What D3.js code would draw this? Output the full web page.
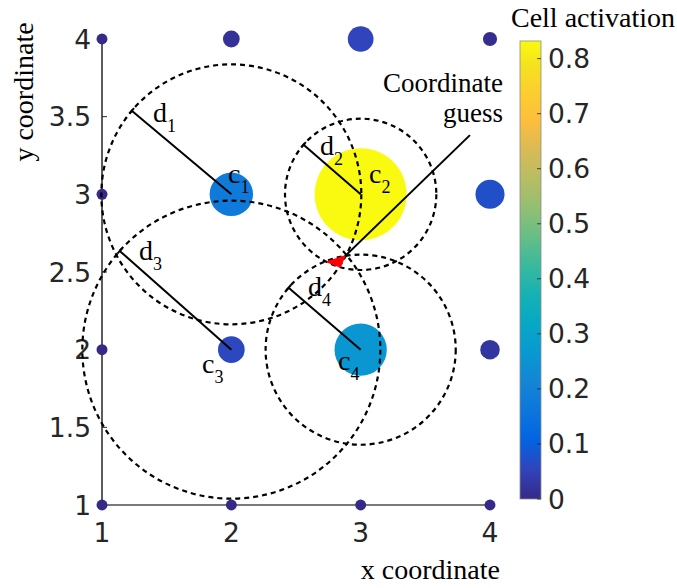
<!DOCTYPE html>
<html><head><meta charset="utf-8">
<script src="https://cdn.jsdelivr.net/npm/d3@7"></script>
<style>body{margin:0;background:#fff}</style>
</head><body><svg id="c" width="677" height="588"></svg>
<script>
// ---- data ----
const xCells = [1, 2, 3, 4];
const yCells = [4, 3, 2, 1];
const activation = [            // rows follow yCells, columns follow xCells
  [0.000, 0.016, 0.054, 0.008],
  [0.000, 0.176, 0.830, 0.072],
  [0.000, 0.059, 0.260, 0.026],
  [0.000, 0.000, 0.000, 0.000]
];
const circleNames = ["1", "2", "3", "4"];
const circleCX = [2, 3, 2, 3];
const circleCY = [3, 3, 2, 2];
const circleR = [1.005, 0.585, 1.152, 0.735];      // in x units
const radiusAngle = [40, 41, 41.5, 40.7];          // degrees, up-left
const dLabelX = [1.394, 2.686, 1.286, 2.593];
const dLabelY = [3.466, 3.253, 2.578, 2.346];
const cLabelX = [1.974, 3.064, 1.773, 2.825];
const cLabelY = [3.073, 3.073, 1.850, 1.869];
const guessX = [2.740, 2.879, 2.840];
const guessY = [2.565, 2.603, 2.533];
const pointerX = [2.879, 3.845];
const pointerY = [2.602, 3.381];
const xTicks = [1, 2, 3, 4];
const yTicks = [1, 1.5, 2, 2.5, 3, 3.5, 4];
const cbTicks = [0, 0.1, 0.2, 0.3, 0.4, 0.5, 0.6, 0.7, 0.8];
const cbMax = 0.832;
const parula = ["#352a87","#3243ba","#0363e1","#0d75dc","#1485d4","#0998d1","#06a7c6","#15b1b4",
  "#38b99e","#65be86","#92bf73","#b7bd64","#d9ba56","#fdbe3d","#fcce2e","#f5e41d","#f9fb0e"];
const parulaPos = [0,4,8,12,16,20,24,28,32,36,40,44,48,52,56,60,63].map(i => i / 63);

// ---- scales ----
const svg = d3.select("#c");
const x = d3.scaleLinear().domain([1, 4]).range([102, 490]);
const y = d3.scaleLinear().domain([1, 4]).range([505, 39]);
const cmapT = d3.scaleLinear().domain(parulaPos).range(parula).interpolate(d3.interpolateRgb);
const color = v => cmapT(Math.min(1, v / cbMax));
const area = d3.scaleLinear().domain([0, 0.83]).range([30, 2116]);
const serif = "'Liberation Serif','Times New Roman',serif";
const sans = "'DejaVu Sans',sans-serif";
const ink = "#262626";
const SANS = 26.5, SERIF = 28, SUB = 18;

// ---- axes ----
const g = svg.append("g");
g.append("line").attr("x1", x(1)).attr("x2", x(4)).attr("y1", y(1)).attr("y2", y(1))
  .attr("stroke", "#4d4d4d").attr("stroke-width", 1.5);
g.append("line").attr("x1", x(1)).attr("x2", x(1)).attr("y1", y(1)).attr("y2", y(4))
  .attr("stroke", ink).attr("stroke-width", 1.5);
g.selectAll(".yt").data(yTicks).join("line").attr("x1", x(1)).attr("x2", x(1) + 5)
  .attr("y1", d => y(d)).attr("y2", d => y(d)).attr("stroke", ink).attr("stroke-width", 1);
g.selectAll(".xt").data(xTicks).join("line").attr("y1", y(1)).attr("y2", y(1) - 5)
  .attr("x1", d => x(d)).attr("x2", d => x(d)).attr("stroke", ink).attr("stroke-width", 1);
g.selectAll(".ytl").data(yTicks).join("text").attr("x", x(1) - 11).attr("y", d => y(d))
  .attr("dy", "0.36em").attr("text-anchor", "end").attr("font-family", sans)
  .attr("font-size", SANS).attr("fill", ink).text(d => d);
g.selectAll(".xtl").data(xTicks).join("text").attr("x", d => x(d)).attr("y", y(1) + 37)
  .attr("text-anchor", "middle").attr("font-family", sans)
  .attr("font-size", SANS).attr("fill", ink).text(d => d);
svg.append("text").attr("x", x(4) + 10).attr("y", 579).attr("text-anchor", "end")
  .attr("font-family", serif).attr("font-size", SERIF).attr("fill", "#000").text("x coordinate");
svg.append("text").attr("transform", "translate(33,92) rotate(-90)").attr("text-anchor", "middle")
  .attr("font-family", serif).attr("font-size", SERIF).attr("fill", "#000").text("y coordinate");

// ---- cells ----
const cells = [];
yCells.forEach((yy, i) => xCells.forEach((xx, j) => cells.push({x: xx, y: yy, v: activation[i][j]})));
svg.append("g").selectAll("circle").data(cells).join("circle")
  .attr("cx", d => x(d.x)).attr("cy", d => y(d.y))
  .attr("r", d => Math.sqrt(area(d.v))).attr("fill", d => color(d.v));

// ---- distance circles ----
const cg = svg.append("g");
circleNames.forEach((n, i) => {
  const cx = x(circleCX[i]), cy = y(circleCY[i]);
  const r = x(1 + circleR[i]) - x(1);
  cg.append("circle").attr("cx", cx).attr("cy", cy).attr("r", r)
    .attr("fill", "none").attr("stroke", "#000").attr("stroke-width", 2.2)
    .attr("stroke-dasharray", "5,4");
  const a = radiusAngle[i] * Math.PI / 180;
  const ex = cx - r * Math.cos(a), ey = cy - r * Math.sin(a);
  cg.append("line").attr("x1", cx).attr("y1", cy).attr("x2", ex).attr("y2", ey)
    .attr("stroke", "#000").attr("stroke-width", 2);
  const px = Math.sin(a) * 3.5, py = -Math.cos(a) * 3.5;
  cg.append("line").attr("x1", ex - px).attr("y1", ey - py).attr("x2", ex + px).attr("y2", ey + py)
    .attr("stroke", "#000").attr("stroke-width", 2);
});

// ---- guess ----
const guessPts = guessX.map((v, i) => [x(v), y(guessY[i])]);
svg.append("path").attr("d", d3.line()(guessPts) + "Z").attr("fill", "#ff0000")
  .attr("stroke", "#ff0000").attr("stroke-width", 1.5).attr("stroke-linejoin", "round");
svg.append("line").attr("x1", x(pointerX[0])).attr("y1", y(pointerY[0]))
  .attr("x2", x(pointerX[1])).attr("y2", y(pointerY[1])).attr("stroke", "#000").attr("stroke-width", 2);
svg.append("text").attr("x", 503).attr("y", 92).attr("text-anchor", "end")
  .attr("font-family", serif).attr("font-size", 27).text("Coordinate");
svg.append("text").attr("x", 503).attr("y", 122).attr("text-anchor", "end")
  .attr("font-family", serif).attr("font-size", 27).text("guess");

// ---- labels ----
function lab(main, sub, xx, yy) {
  const t = svg.append("text").attr("x", x(xx)).attr("y", y(yy))
    .attr("font-family", serif).attr("font-size", SERIF).attr("fill", "#000");
  t.append("tspan").text(main);
  t.append("tspan").attr("font-size", SUB).attr("dy", 10).text(sub);
}
circleNames.forEach((n, i) => {
  lab("d", n, dLabelX[i], dLabelY[i]);
  lab("c", n, cLabelX[i], cLabelY[i]);
});

// ---- colorbar ----
const cb = d3.scaleLinear().domain([0, cbMax]).range([499, 41]);
const defs = svg.append("defs");
const grad = defs.append("linearGradient").attr("id", "pg").attr("x1", 0).attr("y1", 1).attr("x2", 0).attr("y2", 0);
parula.forEach((c, i) => grad.append("stop").attr("offset", parulaPos[i]).attr("stop-color", c));
svg.append("rect").attr("x", 520).attr("y", cb(cbMax)).attr("width", 21)
  .attr("height", cb(0) - cb(cbMax)).attr("fill", "url(#pg)").attr("stroke", "#8c8c8c").attr("stroke-width", 0.8);
svg.selectAll(".cbt").data(cbTicks).join("line").attr("x1", 537).attr("x2", 541)
  .attr("y1", d => cb(d)).attr("y2", d => cb(d)).attr("stroke", ink).attr("stroke-width", 0.8);
svg.selectAll(".cbl").data(cbTicks).join("text").attr("x", 548).attr("y", d => cb(d))
  .attr("dy", "0.36em").attr("font-family", sans).attr("font-size", SANS).attr("fill", ink)
  .text(d => d3.format("~g")(d));
svg.append("text").attr("x", 593).attr("y", 27).attr("text-anchor", "middle")
  .attr("font-family", serif).attr("font-size", SERIF).text("Cell activation");
</script></body></html>
